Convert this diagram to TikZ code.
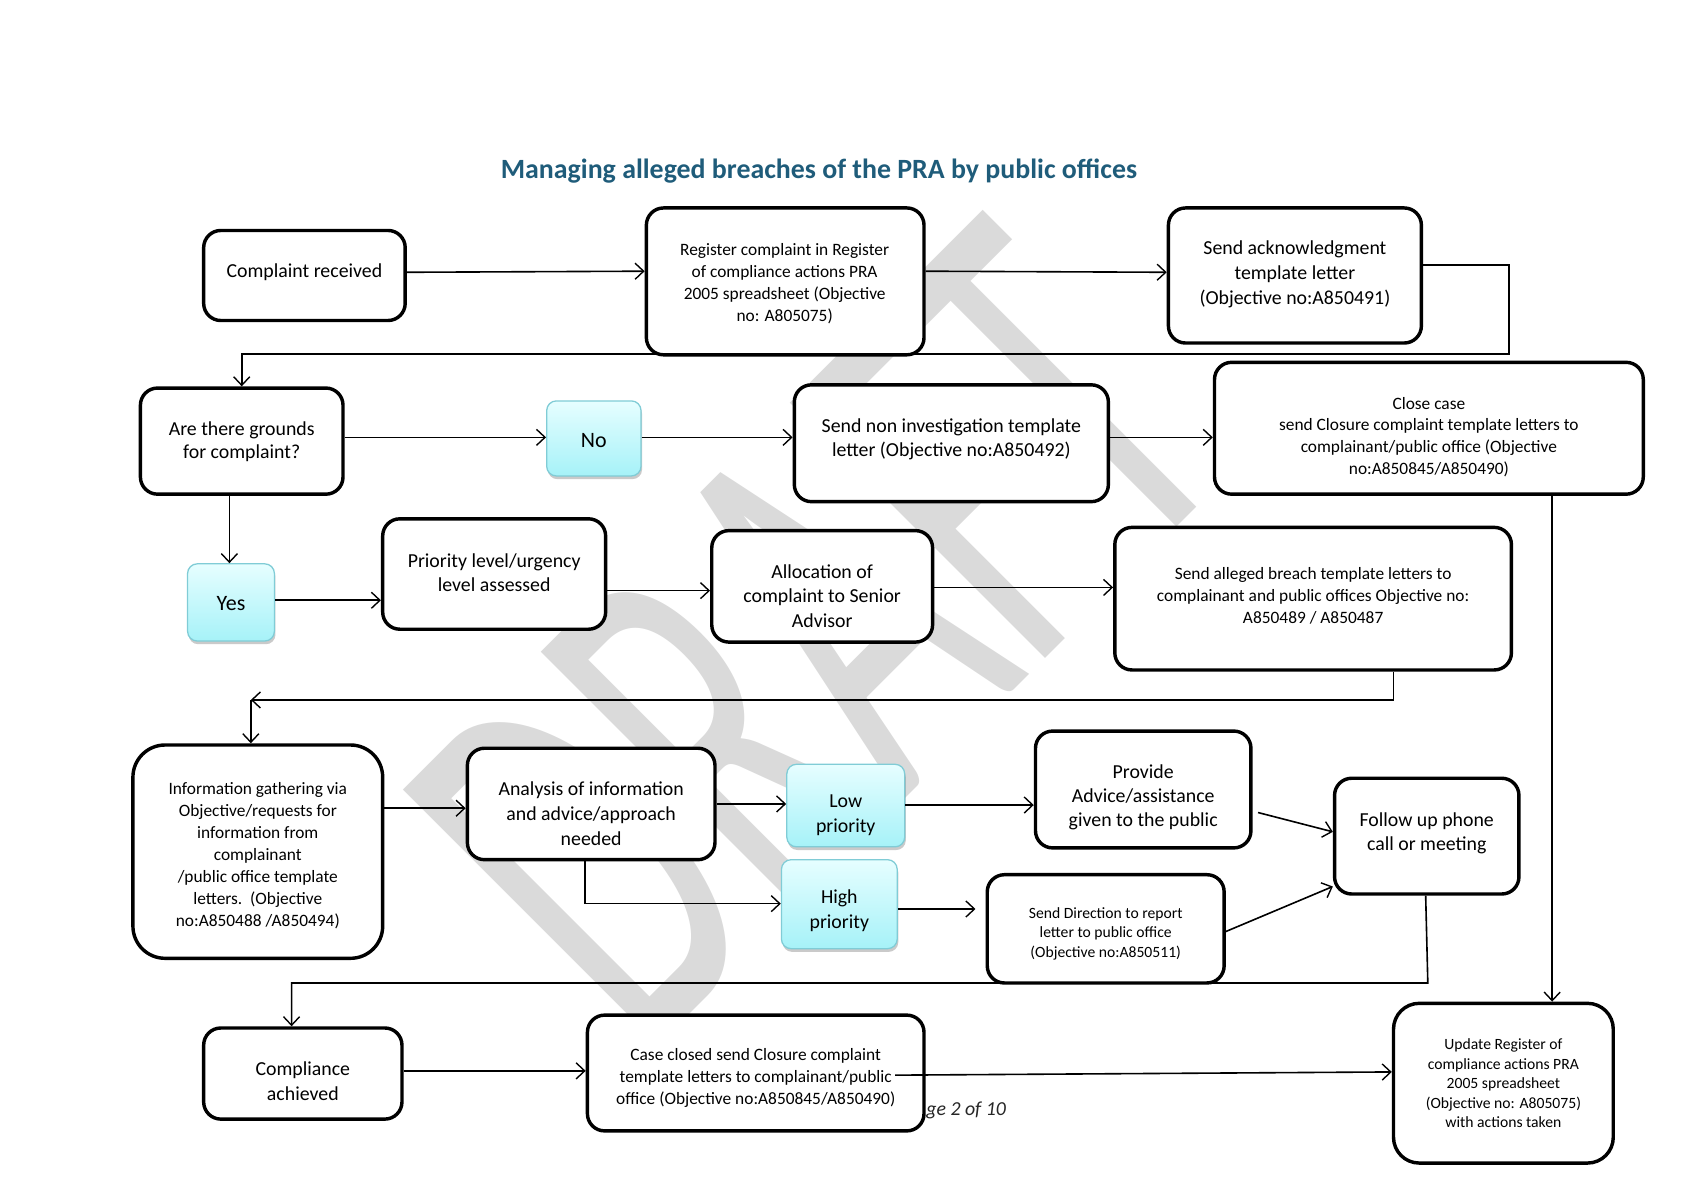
\documentclass[tikz,border=0pt]{standalone}
\usepackage{fontspec}
\setmainfont{Carlito}
\usetikzlibrary{arrows.meta,shadows}
\definecolor{titleblue}{RGB}{31,92,122}
\definecolor{cyantop}{RGB}{230,254,255}
\definecolor{cyanbot}{RGB}{166,242,248}
\definecolor{cyanedge}{RGB}{128,204,214}
\definecolor{wm}{RGB}{218,218,218}
\begin{document}
\begin{tikzpicture}[x=1pt,y=-1pt,
  box/.style={draw, line width=3.2pt, rounded corners=16pt, fill=white, inner sep=0pt},
  cbox/.style={draw=cyanedge, line width=1.2pt, rounded corners=9pt, top color=cyantop, bottom color=cyanbot, inner sep=0pt,
     drop shadow={shadow xshift=1pt, shadow yshift=-3pt, opacity=0.35, fill=black!60}},
  big/.style={align=center, inner sep=0pt, yshift=-2pt, font=\fontsize{18.5}{23}\selectfont},
  mid/.style={align=center, inner sep=0pt, yshift=-2pt, font=\fontsize{16.2}{20.5}\selectfont},
  small/.style={align=center, inner sep=0pt, yshift=-2pt, font=\fontsize{14.6}{18.2}\selectfont},
  yn/.style={align=center, inner sep=0pt, yshift=-2pt, font=\fontsize{20.5}{23}\selectfont},
  conn/.style={line width=1.5pt, -{Straight Barb[length=8pt,width=15pt,line width=1.3pt]}},
  plain/.style={line width=1.5pt}]
\useasboundingbox (0,0) rectangle (1571,1111);

% watermark
\node[font=\fontsize{525}{525}\selectfont, text=wm, rotate=45, xscale=0.56, inner sep=0pt, anchor=south west] (wmark) at (600,990) {DRAFT};

% title
\node[font=\fontsize{26}{30}\selectfont\bfseries, text=titleblue] (title) at (764,160) {Managing alleged breaches of the PRA by public offices};

% boxes
\node[box, minimum width=188pt, minimum height=84pt] (cr) at (284,257) {};
\node[box, minimum width=259pt, minimum height=137pt] (reg) at (732.5,262.5) {};
\node[box, minimum width=236pt, minimum height=126pt] (ack) at (1208,257) {};
\node[box, minimum width=189pt, minimum height=99pt] (grounds) at (225.5,411.5) {};
\node[cbox, minimum width=88pt, minimum height=70pt] (no) at (554,409) {};
\node[box, minimum width=293pt, minimum height=109pt] (noninv) at (887.5,413.5) {};
\node[box, minimum width=400pt, minimum height=123pt] (close) at (1333,399.5) {};
\node[cbox, minimum width=81pt, minimum height=72pt] (yes) at (215.5,562) {};
\node[box, minimum width=208pt, minimum height=103pt] (prio) at (461,535.5) {};
\node[box, minimum width=206pt, minimum height=104pt] (alloc) at (767,547) {};
\node[box, minimum width=370pt, minimum height=133pt] (breach) at (1225,558.5) {};
\node[box, minimum width=233pt, minimum height=199pt, rounded corners=30pt] (info) at (240.5,794.5) {};
\node[box, minimum width=231pt, minimum height=104pt] (anal) at (551.5,750) {};
\node[cbox, minimum width=110pt, minimum height=77pt] (low) at (789,751.5) {};
\node[cbox, minimum width=108pt, minimum height=83pt] (high) at (783,843.5) {};
\node[box, minimum width=201pt, minimum height=109pt] (prov) at (1066.5,736.5) {};
\node[box, minimum width=172pt, minimum height=108pt] (follow) at (1331,780) {};
\node[box, minimum width=221pt, minimum height=101pt] (dir) at (1031.5,866.5) {};
\node[box, minimum width=185pt, minimum height=85pt] (comp) at (282.5,1001.5) {};
\node[box, minimum width=314pt, minimum height=108pt] (cc) at (705,1001) {};
\node[box, minimum width=205pt, minimum height=149pt, rounded corners=24pt] (upd) at (1402.5,1010.5) {};

% texts
\node[big] (cr-t) at (284,252) {Complaint received};
\node[mid] (reg-t) at (732,263) {Register complaint in Register\\of compliance actions PRA\\2005 spreadsheet (Objective\\no: A805075)};
\node[big] (ack-t) at (1208,254) {Send acknowledgment\\template letter\\(Objective no:A850491)};
\node[big, font=\fontsize{18.5}{22}\selectfont] (grounds-t) at (225.5,410) {Are there grounds\\for complaint?};
\node[yn] (no-t) at (554,409) {No};
\node[big, font=\fontsize{18.5}{22}\selectfont] (noninv-t) at (887.5,408) {Send non investigation template\\letter (Objective no:A850492)};
\node[mid, font=\fontsize{16.2}{20.3}\selectfont] (close-t) at (1333,405.5) {Close case\\send Closure complaint template letters to\\complainant/public office (Objective\\no:A850845/A850490)};
\node[yn] (yes-t) at (215.5,561) {Yes};
\node[big, font=\fontsize{18.5}{22}\selectfont] (prio-t) at (461,532) {Priority level/urgency\\level assessed};
\node[big] (alloc-t) at (767,554) {Allocation of\\complaint to Senior\\Advisor};
\node[mid] (breach-t) at (1225,553.5) {Send alleged breach template letters to\\complainant and public offices Objective no:\\A850489 / A850487};
\node[mid] (info-t) at (240.5,796.5) {Information gathering via\\Objective/requests for\\information from\\complainant\\/public office template\\letters.\ \ (Objective\\no:A850488 /A850494)};
\node[big] (anal-t) at (551.5,757) {Analysis of information\\and advice/approach\\needed};
\node[big] (low-t) at (789,758.5) {Low\\priority};
\node[big] (high-t) at (783,847.5) {High\\priority};
\node[big, font=\fontsize{18.5}{22.5}\selectfont] (prov-t) at (1066.5,741.5) {Provide\\Advice/assistance\\given to the public};
\node[big] (follow-t) at (1331,775.5) {Follow up phone\\call or meeting};
\node[small] (dir-t) at (1031.5,869) {Send Direction to report\\letter to public office\\(Objective no:A850511)};
\node[big] (comp-t) at (282.5,1006.5) {Compliance\\achieved};
\node[mid] (cc-t) at (705,1003.5) {Case closed send Closure complaint\\template letters to complainant/public\\office (Objective no:A850845/A850490)};
\node[small] (upd-t) at (1402.5,1008.5) {Update Register of\\compliance actions PRA\\2005 spreadsheet\\(Objective no: A805075)\\with actions taken};

% footer fragment
\node[font=\fontsize{18.5}{20}\selectfont\itshape, text=black!85, anchor=west, inner sep=0pt] (pg) at (864,1036) {ge 2 of 10};

% helper coordinates
\coordinate (j1) at (234,653);
\coordinate (dirin) at (910,848);
\coordinate (ccout) at (835,1003);

% connectors
\draw[conn] (cr.east |- 0,254) -- (reg.west |- 0,253);
\draw[conn] (reg.east |- 0,253) -- (ack.west |- 0,254);
\draw[conn] (ack.east |- 0,247) -| (1408,330) -| (grounds.north);
\draw[conn] (grounds.east |- 0,408) -- (no.west |- 0,408);
\draw[conn] (no.east |- 0,408) -- (noninv.west |- 0,408);
\draw[conn] (noninv.east |- 0,408) -- (close.west |- 0,408);
\draw[conn] (close.south -| 1448,0) -- (upd.north -| 1448,0);
\draw[conn] (grounds.south -| 214,0) -- (yes.north -| 214,0);
\draw[conn] (yes.east |- 0,560) -- (prio.west |- 0,560);
\draw[conn] (prio.east |- 0,551) -- (alloc.west |- 0,551);
\draw[conn] (alloc.east |- 0,548) -- (breach.west |- 0,548);
\draw[conn] (breach.south -| 1300,0) |- (j1);
\draw[conn] (j1) -- (info.north -| j1);
\draw[conn] (info.east |- 0,754) -- (anal.west |- 0,754);
\draw[conn] (anal.east |- 0,750) -- (low.west |- 0,750);
\draw[conn] (anal.south -| 546,0) |- (high.west |- 0,843);
\draw[conn] (low.east |- 0,751) -- (prov.west |- 0,751);
\draw[conn] (high.east |- 0,848) -- (dirin);
\draw[conn] ([xshift=5pt]prov.east |- 0,758) -- (follow.west |- 0,776);
\draw[conn] (dir.east |- 0,869) -- (follow.west |- 0,827);
\draw[conn] (follow.south -| 1330,0) -- (1332,917) -| (comp.north -| 272,0);
\draw[conn] (comp.east |- 0,999) -- (cc.west |- 0,999);
\draw[conn] (ccout) -- (upd.west |- 0,1000);
\end{tikzpicture}
\end{document}
